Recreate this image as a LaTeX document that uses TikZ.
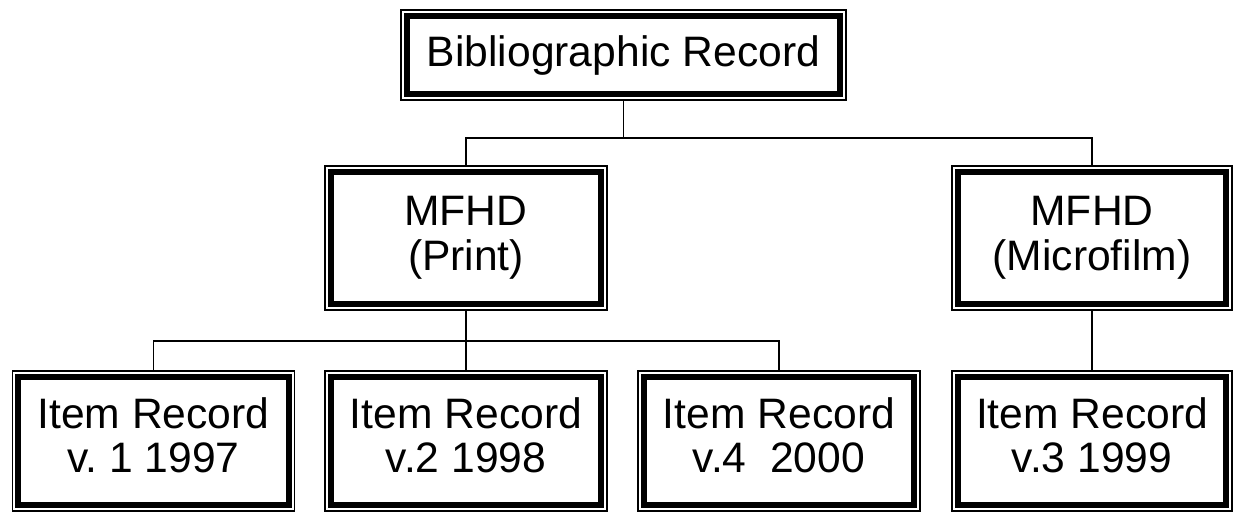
\documentclass[tikz,border=0pt]{standalone}
\usepackage{fontspec}
\setmainfont{Liberation Sans}

\tikzset{
  rec/.style={draw, line width=0.75pt, fill=white, align=center,
    minimum width=141pt, minimum height=72pt, inner sep=0pt,
    font=\fontsize{21.3pt}{22.3pt}\selectfont,
    path picture={
      \draw[line width=3pt]
        ([shift={(2.9pt,-2.9pt)}]path picture bounding box.north west) rectangle
        ([shift={(-2.9pt,2.9pt)}]path picture bounding box.south east);
    }},
  itemrec/.style={rec, minimum height=70pt, text depth=6pt},
  link/.style={line width=0.75pt}
}

\begin{document}
\begin{tikzpicture}[x=0.5pt, y=-0.5pt]
  \useasboundingbox (0,0) rectangle (1233,512);

  \node[rec, minimum width=222.5pt, minimum height=45pt] (bib) at (623.5,55) {Bibliographic Record};
  \node[rec] (print) at (466,238) {MFHD\\(Print)};
  \node[rec, minimum width=140pt] (film) at (1092,238) {MFHD\\(Microfilm)};

  \node[itemrec] (i1) at (153.5,441) {Item Record\\v.\ 1 1997};
  \node[itemrec] (i2) at (466,441) {Item Record\\v.2 1998};
  \node[itemrec] (i4) at (779,441) {Item Record\\v.4~ 2000};
  \node[itemrec, minimum width=140pt] (i3) at (1092,441) {Item Record\\v.3 1999};

  % joints
  \coordinate (top) at (623.5,138);
  \coordinate (mid) at (466,341);

  \draw[link] (bib.south) -- (top);
  \draw[link] (top) -| (print.north);
  \draw[link] (top) -| (film.north);

  \draw[link] (print.south) -- (mid);
  \draw[link] (mid) -| (i1.north);
  \draw[link] (mid) -- (i2.north);
  \draw[link] (mid) -| (i4.north);

  \draw[link] (film.south) -- (i3.north);
\end{tikzpicture}
\end{document}
